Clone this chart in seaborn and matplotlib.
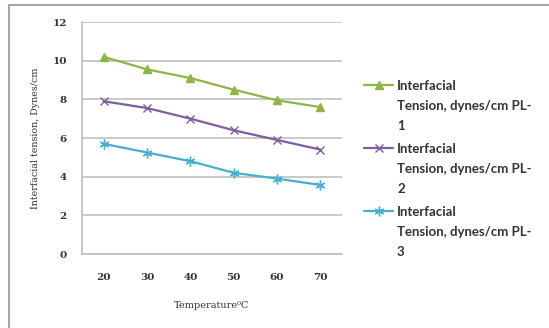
import matplotlib
matplotlib.use("Agg")
import matplotlib.pyplot as plt
import seaborn as sns
import pandas as pd
from matplotlib.lines import Line2D

# ---- data ----
temperatures = ["20", "30", "40", "50", "60", "70"]
pl1 = [10.2, 9.55, 9.1, 8.5, 7.95, 7.6]
pl2 = [7.9, 7.55, 7.0, 6.4, 5.9, 5.4]
pl3 = [5.7, 5.25, 4.8, 4.2, 3.9, 3.57]
series_names = ["Interfacial\nTension, dynes/cm PL-\n1",
                "Interfacial\nTension, dynes/cm PL-\n2",
                "Interfacial\nTension, dynes/cm PL-\n3"]
y_ticks = [0, 2, 4, 6, 8, 10, 12]
x_label = "Temperature\u2070C"
y_label = "Interfacial tension, Dynes/cm"

colors = ["#8EB545", "#7D5FA0", "#47AFCB"]
markers = ["^", "x", (6, 2, 0)]
msizes = [6, 6, 7]

rows = []
for name, vals in zip(series_names, [pl1, pl2, pl3]):
    for t, v in zip(temperatures, vals):
        rows.append({"Temperature": t, "Value": v, "Series": name})
df = pd.DataFrame(rows)

sns.set_style("white")
fig = plt.figure(figsize=(5.49, 3.28), dpi=100)
ax = fig.add_axes([82 / 549, 1 - 254 / 328, 260 / 549, 232 / 328])

sns.lineplot(data=df, x="Temperature", y="Value", hue="Series",
             palette=colors, hue_order=series_names, sort=False,
             legend=False, ax=ax, linewidth=1.6)

handles = []
for line, c, m, ms in zip(ax.lines, colors, markers, msizes):
    line.set_marker(m)
    line.set_markersize(ms)
    line.set_markerfacecolor(c)
    line.set_markeredgecolor(c)
    line.set_markeredgewidth(1.0)
    handles.append(line)

ax.set_xlim(-0.5, len(temperatures) - 0.5)
ax.set_ylim(0, 12)
ax.set_yticks(y_ticks)
ax.set_yticklabels([str(v) for v in y_ticks])
ax.set_xticks(range(len(temperatures)))
ax.set_xticklabels(temperatures)

gcol = "#C9C9C9"
ax.grid(axis="y", color=gcol, linewidth=1.4)
ax.grid(axis="x", visible=False)
for s in ["top", "right"]:
    ax.spines[s].set_visible(False)
for s in ["left", "bottom"]:
    ax.spines[s].set_color("#BEBEBE")
    ax.spines[s].set_linewidth(1.2)

# minor ticks at category boundaries on x
ax.set_xticks([i - 0.5 for i in range(len(temperatures) + 1)], minor=True)
ax.tick_params(axis="x", which="major", length=0, pad=14)
ax.tick_params(axis="x", which="minor", length=4, color="#BEBEBE", width=1.0, direction="out")
ax.tick_params(axis="y", length=4, color=gcol, width=1.2, pad=7, direction="out")

for lab in ax.get_xticklabels() + ax.get_yticklabels():
    lab.set_fontfamily(["DejaVu Serif"])
    lab.set_fontweight("bold")
    lab.set_fontsize(7.5)
    lab.set_color("#333333")

ax.set_xlabel(x_label, family=["DejaVu Serif", "DejaVu Sans"], fontsize=7, color="#333333", labelpad=13)
ax.set_ylabel(y_label, family=["DejaVu Serif", "DejaVu Sans"], fontsize=6.8, color="#333333", labelpad=9)

leg = fig.legend(handles=handles, labels=series_names, loc="upper left",
                 bbox_to_anchor=(364 / 549, 1 - 80 / 328), frameon=False,
                 borderpad=0, borderaxespad=0, handlelength=2.2, handletextpad=0.3,
                 labelspacing=0.85, prop=dict(family="Lato", weight="bold", size=9.5),
                 numpoints=1)
for t in leg.get_texts():
    t.set_linespacing(1.8)
    t.set_color("#333333")
# align handles with the first line of each label
try:
    for col in leg._legend_handle_box.get_children():
        for item in col.get_children():
            item.align = "top"
except Exception:
    pass

# outer chart border (top and left visible)
fig.add_artist(Line2D([9 / 549, 1], [1 - 5 / 328, 1 - 5 / 328], color="#A6A6A6", linewidth=1.5,
                      transform=fig.transFigure))
fig.add_artist(Line2D([9 / 549, 9 / 549], [0, 1 - 5 / 328], color="#A6A6A6", linewidth=1.5,
                      transform=fig.transFigure))

fig.savefig("out.png", dpi=100)
